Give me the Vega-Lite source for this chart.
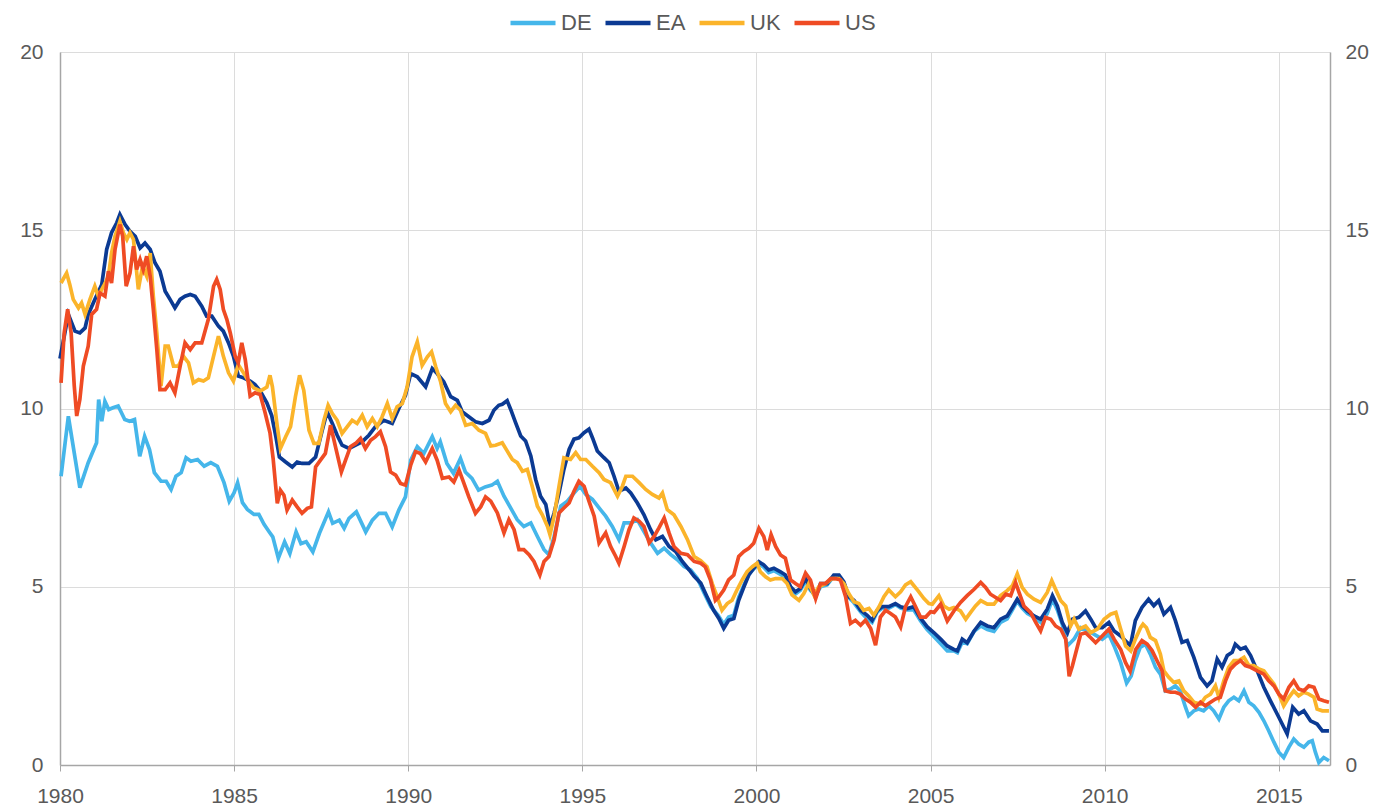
{
"$schema": "https://vega.github.io/schema/vega-lite/v6.json",
"width": 1270, "height": 713,
"autosize": {"type": "none"},
"padding": {"left": 60, "top": 52, "right": 46, "bottom": 43},
"background": "white",
"config": {"view": {"stroke": null}, "font": "Liberation Sans"},
"data": {"values": [
{"s":"DE","t":1980.03,"v":8.1},{"s":"DE","t":1980.24,"v":9.78},{"s":"DE","t":1980.57,"v":7.78},{"s":"DE","t":1980.81,"v":8.48},{"s":"DE","t":1981.05,"v":9.04},{"s":"DE","t":1981.11,"v":10.25},{"s":"DE","t":1981.2,"v":9.64},{"s":"DE","t":1981.29,"v":10.2},{"s":"DE","t":1981.4,"v":9.97},{"s":"DE","t":1981.52,"v":10.02},{"s":"DE","t":1981.67,"v":10.07},{"s":"DE","t":1981.86,"v":9.69},{"s":"DE","t":1982.0,"v":9.64},{"s":"DE","t":1982.14,"v":9.69},{"s":"DE","t":1982.29,"v":8.66},{"s":"DE","t":1982.43,"v":9.22},{"s":"DE","t":1982.57,"v":8.85},{"s":"DE","t":1982.71,"v":8.2},{"s":"DE","t":1982.9,"v":7.96},{"s":"DE","t":1983.05,"v":7.96},{"s":"DE","t":1983.19,"v":7.73},{"s":"DE","t":1983.33,"v":8.1},{"s":"DE","t":1983.48,"v":8.2},{"s":"DE","t":1983.62,"v":8.62},{"s":"DE","t":1983.76,"v":8.52},{"s":"DE","t":1983.95,"v":8.57},{"s":"DE","t":1984.14,"v":8.38},{"s":"DE","t":1984.33,"v":8.48},{"s":"DE","t":1984.52,"v":8.38},{"s":"DE","t":1984.71,"v":7.92},{"s":"DE","t":1984.86,"v":7.4},{"s":"DE","t":1985.0,"v":7.64},{"s":"DE","t":1985.1,"v":7.92},{"s":"DE","t":1985.24,"v":7.36},{"s":"DE","t":1985.38,"v":7.17},{"s":"DE","t":1985.57,"v":7.03},{"s":"DE","t":1985.71,"v":7.03},{"s":"DE","t":1985.86,"v":6.75},{"s":"DE","t":1986.0,"v":6.55},{"s":"DE","t":1986.11,"v":6.4},{"s":"DE","t":1986.27,"v":5.8},{"s":"DE","t":1986.45,"v":6.26},{"s":"DE","t":1986.6,"v":5.93},{"s":"DE","t":1986.78,"v":6.54},{"s":"DE","t":1986.92,"v":6.21},{"s":"DE","t":1987.07,"v":6.26},{"s":"DE","t":1987.26,"v":5.98},{"s":"DE","t":1987.45,"v":6.5},{"s":"DE","t":1987.71,"v":7.1},{"s":"DE","t":1987.83,"v":6.78},{"s":"DE","t":1988.02,"v":6.87},{"s":"DE","t":1988.16,"v":6.64},{"s":"DE","t":1988.3,"v":6.92},{"s":"DE","t":1988.51,"v":7.1},{"s":"DE","t":1988.78,"v":6.54},{"s":"DE","t":1988.97,"v":6.87},{"s":"DE","t":1989.16,"v":7.06},{"s":"DE","t":1989.35,"v":7.06},{"s":"DE","t":1989.54,"v":6.68},{"s":"DE","t":1989.73,"v":7.15},{"s":"DE","t":1989.92,"v":7.52},{"s":"DE","t":1990.07,"v":8.55},{"s":"DE","t":1990.26,"v":8.93},{"s":"DE","t":1990.45,"v":8.74},{"s":"DE","t":1990.69,"v":9.21},{"s":"DE","t":1990.83,"v":8.88},{"s":"DE","t":1990.92,"v":9.07},{"s":"DE","t":1991.11,"v":8.46},{"s":"DE","t":1991.3,"v":8.18},{"s":"DE","t":1991.5,"v":8.6},{"s":"DE","t":1991.64,"v":8.22},{"s":"DE","t":1991.83,"v":8.04},{"s":"DE","t":1992.02,"v":7.71},{"s":"DE","t":1992.21,"v":7.8},{"s":"DE","t":1992.4,"v":7.85},{"s":"DE","t":1992.56,"v":7.96},{"s":"DE","t":1992.75,"v":7.54},{"s":"DE","t":1992.94,"v":7.21},{"s":"DE","t":1993.13,"v":6.88},{"s":"DE","t":1993.32,"v":6.69},{"s":"DE","t":1993.52,"v":6.79},{"s":"DE","t":1993.71,"v":6.41},{"s":"DE","t":1993.9,"v":6.04},{"s":"DE","t":1994.04,"v":5.9},{"s":"DE","t":1994.19,"v":6.41},{"s":"DE","t":1994.38,"v":7.26},{"s":"DE","t":1994.57,"v":7.4},{"s":"DE","t":1994.76,"v":7.63},{"s":"DE","t":1994.93,"v":7.82},{"s":"DE","t":1995.1,"v":7.59},{"s":"DE","t":1995.29,"v":7.45},{"s":"DE","t":1995.48,"v":7.21},{"s":"DE","t":1995.67,"v":6.98},{"s":"DE","t":1995.86,"v":6.69},{"s":"DE","t":1996.05,"v":6.32},{"s":"DE","t":1996.2,"v":6.79},{"s":"DE","t":1996.39,"v":6.79},{"s":"DE","t":1996.58,"v":6.88},{"s":"DE","t":1996.77,"v":6.55},{"s":"DE","t":1996.96,"v":6.23},{"s":"DE","t":1997.16,"v":5.94},{"s":"DE","t":1997.35,"v":6.08},{"s":"DE","t":1997.54,"v":5.9},{"s":"DE","t":1997.73,"v":5.76},{"s":"DE","t":1997.92,"v":5.57},{"s":"DE","t":1998.11,"v":5.47},{"s":"DE","t":1998.3,"v":5.24},{"s":"DE","t":1998.5,"v":4.82},{"s":"DE","t":1998.69,"v":4.44},{"s":"DE","t":1998.9,"v":4.2},{"s":"DE","t":1999.06,"v":3.95},{"s":"DE","t":1999.2,"v":4.15},{"s":"DE","t":1999.35,"v":4.2},{"s":"DE","t":1999.49,"v":4.7},{"s":"DE","t":1999.64,"v":5.05},{"s":"DE","t":1999.78,"v":5.35},{"s":"DE","t":1999.92,"v":5.5},{"s":"DE","t":2000.07,"v":5.65},{"s":"DE","t":2000.21,"v":5.55},{"s":"DE","t":2000.35,"v":5.4},{"s":"DE","t":2000.5,"v":5.45},{"s":"DE","t":2000.69,"v":5.35},{"s":"DE","t":2000.83,"v":5.25},{"s":"DE","t":2000.98,"v":4.9},{"s":"DE","t":2001.12,"v":4.8},{"s":"DE","t":2001.26,"v":4.9},{"s":"DE","t":2001.41,"v":5.15},{"s":"DE","t":2001.55,"v":4.9},{"s":"DE","t":2001.7,"v":4.75},{"s":"DE","t":2001.84,"v":5.0},{"s":"DE","t":2002.03,"v":5.05},{"s":"DE","t":2002.22,"v":5.3},{"s":"DE","t":2002.37,"v":5.3},{"s":"DE","t":2002.51,"v":5.1},{"s":"DE","t":2002.65,"v":4.7},{"s":"DE","t":2002.8,"v":4.55},{"s":"DE","t":2002.99,"v":4.3},{"s":"DE","t":2003.18,"v":4.1},{"s":"DE","t":2003.32,"v":4.0},{"s":"DE","t":2003.47,"v":4.3},{"s":"DE","t":2003.61,"v":4.4},{"s":"DE","t":2003.8,"v":4.4},{"s":"DE","t":2003.99,"v":4.5},{"s":"DE","t":2004.14,"v":4.4},{"s":"DE","t":2004.33,"v":4.35},{"s":"DE","t":2004.52,"v":4.35},{"s":"DE","t":2004.71,"v":4.05},{"s":"DE","t":2004.9,"v":3.8},{"s":"DE","t":2005.1,"v":3.6},{"s":"DE","t":2005.29,"v":3.4},{"s":"DE","t":2005.48,"v":3.2},{"s":"DE","t":2005.67,"v":3.2},{"s":"DE","t":2005.77,"v":3.15},{"s":"DE","t":2005.91,"v":3.45},{"s":"DE","t":2006.05,"v":3.4},{"s":"DE","t":2006.25,"v":3.75},{"s":"DE","t":2006.44,"v":3.9},{"s":"DE","t":2006.63,"v":3.8},{"s":"DE","t":2006.82,"v":3.75},{"s":"DE","t":2007.01,"v":4.0},{"s":"DE","t":2007.2,"v":4.1},{"s":"DE","t":2007.35,"v":4.35},{"s":"DE","t":2007.49,"v":4.6},{"s":"DE","t":2007.63,"v":4.4},{"s":"DE","t":2007.78,"v":4.25},{"s":"DE","t":2007.97,"v":4.15},{"s":"DE","t":2008.16,"v":4.0},{"s":"DE","t":2008.35,"v":4.25},{"s":"DE","t":2008.5,"v":4.65},{"s":"DE","t":2008.64,"v":4.35},{"s":"DE","t":2008.78,"v":3.95},{"s":"DE","t":2008.93,"v":3.34},{"s":"DE","t":2009.12,"v":3.53},{"s":"DE","t":2009.31,"v":3.85},{"s":"DE","t":2009.5,"v":3.76},{"s":"DE","t":2009.69,"v":3.67},{"s":"DE","t":2009.93,"v":3.53},{"s":"DE","t":2010.12,"v":3.67},{"s":"DE","t":2010.27,"v":3.34},{"s":"DE","t":2010.46,"v":2.87},{"s":"DE","t":2010.63,"v":2.3},{"s":"DE","t":2010.76,"v":2.5},{"s":"DE","t":2010.88,"v":2.93},{"s":"DE","t":2011.02,"v":3.3},{"s":"DE","t":2011.17,"v":3.39},{"s":"DE","t":2011.31,"v":3.11},{"s":"DE","t":2011.46,"v":2.74},{"s":"DE","t":2011.6,"v":2.55},{"s":"DE","t":2011.74,"v":2.08},{"s":"DE","t":2011.89,"v":2.13},{"s":"DE","t":2012.03,"v":2.22},{"s":"DE","t":2012.17,"v":2.08},{"s":"DE","t":2012.32,"v":1.62},{"s":"DE","t":2012.41,"v":1.38},{"s":"DE","t":2012.56,"v":1.52},{"s":"DE","t":2012.7,"v":1.57},{"s":"DE","t":2012.84,"v":1.52},{"s":"DE","t":2012.99,"v":1.66},{"s":"DE","t":2013.13,"v":1.52},{"s":"DE","t":2013.28,"v":1.29},{"s":"DE","t":2013.42,"v":1.62},{"s":"DE","t":2013.56,"v":1.8},{"s":"DE","t":2013.71,"v":1.9},{"s":"DE","t":2013.85,"v":1.8},{"s":"DE","t":2014.0,"v":2.08},{"s":"DE","t":2014.14,"v":1.76},{"s":"DE","t":2014.28,"v":1.66},{"s":"DE","t":2014.43,"v":1.48},{"s":"DE","t":2014.57,"v":1.24},{"s":"DE","t":2014.71,"v":0.96},{"s":"DE","t":2014.86,"v":0.64},{"s":"DE","t":2015.0,"v":0.36},{"s":"DE","t":2015.14,"v":0.21},{"s":"DE","t":2015.29,"v":0.5},{"s":"DE","t":2015.43,"v":0.73},{"s":"DE","t":2015.57,"v":0.59},{"s":"DE","t":2015.72,"v":0.5},{"s":"DE","t":2015.86,"v":0.64},{"s":"DE","t":2015.96,"v":0.68},{"s":"DE","t":2016.05,"v":0.36},{"s":"DE","t":2016.15,"v":0.07},{"s":"DE","t":2016.29,"v":0.21},{"s":"DE","t":2016.44,"v":0.12},
{"s":"EA","t":1980.0,"v":11.4},{"s":"EA","t":1980.24,"v":12.64},{"s":"EA","t":1980.43,"v":12.17},{"s":"EA","t":1980.57,"v":12.12},{"s":"EA","t":1980.72,"v":12.26},{"s":"EA","t":1980.81,"v":12.64},{"s":"EA","t":1981.0,"v":13.06},{"s":"EA","t":1981.2,"v":13.48},{"s":"EA","t":1981.34,"v":14.46},{"s":"EA","t":1981.48,"v":14.93},{"s":"EA","t":1981.63,"v":15.21},{"s":"EA","t":1981.72,"v":15.44},{"s":"EA","t":1981.87,"v":15.16},{"s":"EA","t":1982.01,"v":14.97},{"s":"EA","t":1982.16,"v":14.83},{"s":"EA","t":1982.3,"v":14.5},{"s":"EA","t":1982.44,"v":14.64},{"s":"EA","t":1982.59,"v":14.46},{"s":"EA","t":1982.73,"v":14.08},{"s":"EA","t":1982.87,"v":13.85},{"s":"EA","t":1983.02,"v":13.29},{"s":"EA","t":1983.16,"v":13.06},{"s":"EA","t":1983.3,"v":12.82},{"s":"EA","t":1983.45,"v":13.06},{"s":"EA","t":1983.59,"v":13.15},{"s":"EA","t":1983.74,"v":13.2},{"s":"EA","t":1983.88,"v":13.15},{"s":"EA","t":1984.07,"v":12.87},{"s":"EA","t":1984.21,"v":12.59},{"s":"EA","t":1984.36,"v":12.59},{"s":"EA","t":1984.55,"v":12.31},{"s":"EA","t":1984.69,"v":12.17},{"s":"EA","t":1984.84,"v":11.84},{"s":"EA","t":1984.98,"v":11.47},{"s":"EA","t":1985.12,"v":10.91},{"s":"EA","t":1985.27,"v":10.86},{"s":"EA","t":1985.46,"v":10.77},{"s":"EA","t":1985.6,"v":10.67},{"s":"EA","t":1985.75,"v":10.49},{"s":"EA","t":1985.94,"v":10.16},{"s":"EA","t":1986.08,"v":9.8},{"s":"EA","t":1986.2,"v":9.2},{"s":"EA","t":1986.3,"v":8.64},{"s":"EA","t":1986.48,"v":8.5},{"s":"EA","t":1986.67,"v":8.36},{"s":"EA","t":1986.81,"v":8.5},{"s":"EA","t":1986.95,"v":8.46},{"s":"EA","t":1987.15,"v":8.46},{"s":"EA","t":1987.34,"v":8.64},{"s":"EA","t":1987.53,"v":9.39},{"s":"EA","t":1987.67,"v":9.91},{"s":"EA","t":1987.82,"v":9.58},{"s":"EA","t":1987.96,"v":9.25},{"s":"EA","t":1988.1,"v":8.97},{"s":"EA","t":1988.3,"v":8.88},{"s":"EA","t":1988.49,"v":8.97},{"s":"EA","t":1988.68,"v":9.07},{"s":"EA","t":1988.87,"v":9.25},{"s":"EA","t":1989.06,"v":9.49},{"s":"EA","t":1989.3,"v":9.67},{"s":"EA","t":1989.54,"v":9.58},{"s":"EA","t":1989.73,"v":10.0},{"s":"EA","t":1989.92,"v":10.37},{"s":"EA","t":1990.07,"v":10.98},{"s":"EA","t":1990.26,"v":10.89},{"s":"EA","t":1990.5,"v":10.61},{"s":"EA","t":1990.69,"v":11.12},{"s":"EA","t":1990.83,"v":10.98},{"s":"EA","t":1991.02,"v":10.75},{"s":"EA","t":1991.22,"v":10.33},{"s":"EA","t":1991.41,"v":10.23},{"s":"EA","t":1991.55,"v":9.91},{"s":"EA","t":1991.74,"v":9.77},{"s":"EA","t":1991.93,"v":9.63},{"s":"EA","t":1992.13,"v":9.58},{"s":"EA","t":1992.32,"v":9.67},{"s":"EA","t":1992.46,"v":9.95},{"s":"EA","t":1992.6,"v":10.09},{"s":"EA","t":1992.7,"v":10.12},{"s":"EA","t":1992.84,"v":10.22},{"s":"EA","t":1992.94,"v":9.98},{"s":"EA","t":1993.08,"v":9.61},{"s":"EA","t":1993.23,"v":9.23},{"s":"EA","t":1993.37,"v":9.09},{"s":"EA","t":1993.52,"v":8.67},{"s":"EA","t":1993.66,"v":8.01},{"s":"EA","t":1993.8,"v":7.54},{"s":"EA","t":1993.95,"v":7.31},{"s":"EA","t":1994.07,"v":6.69},{"s":"EA","t":1994.19,"v":7.07},{"s":"EA","t":1994.33,"v":7.63},{"s":"EA","t":1994.47,"v":8.29},{"s":"EA","t":1994.62,"v":8.85},{"s":"EA","t":1994.76,"v":9.14},{"s":"EA","t":1994.9,"v":9.18},{"s":"EA","t":1995.05,"v":9.32},{"s":"EA","t":1995.19,"v":9.42},{"s":"EA","t":1995.29,"v":9.18},{"s":"EA","t":1995.43,"v":8.81},{"s":"EA","t":1995.62,"v":8.62},{"s":"EA","t":1995.77,"v":8.48},{"s":"EA","t":1995.91,"v":8.1},{"s":"EA","t":1996.05,"v":7.68},{"s":"EA","t":1996.25,"v":7.77},{"s":"EA","t":1996.39,"v":7.63},{"s":"EA","t":1996.58,"v":7.35},{"s":"EA","t":1996.77,"v":7.02},{"s":"EA","t":1996.96,"v":6.6},{"s":"EA","t":1997.11,"v":6.32},{"s":"EA","t":1997.3,"v":6.41},{"s":"EA","t":1997.49,"v":6.13},{"s":"EA","t":1997.68,"v":5.99},{"s":"EA","t":1997.87,"v":5.71},{"s":"EA","t":1998.07,"v":5.47},{"s":"EA","t":1998.21,"v":5.29},{"s":"EA","t":1998.4,"v":5.1},{"s":"EA","t":1998.58,"v":4.72},{"s":"EA","t":1998.77,"v":4.34},{"s":"EA","t":1998.92,"v":4.11},{"s":"EA","t":1999.06,"v":3.83},{"s":"EA","t":1999.2,"v":4.06},{"s":"EA","t":1999.35,"v":4.11},{"s":"EA","t":1999.49,"v":4.62},{"s":"EA","t":1999.64,"v":5.0},{"s":"EA","t":1999.78,"v":5.33},{"s":"EA","t":1999.92,"v":5.52},{"s":"EA","t":2000.07,"v":5.7},{"s":"EA","t":2000.21,"v":5.61},{"s":"EA","t":2000.35,"v":5.47},{"s":"EA","t":2000.5,"v":5.52},{"s":"EA","t":2000.69,"v":5.42},{"s":"EA","t":2000.83,"v":5.33},{"s":"EA","t":2000.98,"v":5.0},{"s":"EA","t":2001.12,"v":4.86},{"s":"EA","t":2001.26,"v":4.95},{"s":"EA","t":2001.41,"v":5.23},{"s":"EA","t":2001.55,"v":4.95},{"s":"EA","t":2001.7,"v":4.72},{"s":"EA","t":2001.84,"v":5.09},{"s":"EA","t":2002.03,"v":5.09},{"s":"EA","t":2002.22,"v":5.33},{"s":"EA","t":2002.37,"v":5.33},{"s":"EA","t":2002.51,"v":5.14},{"s":"EA","t":2002.65,"v":4.72},{"s":"EA","t":2002.8,"v":4.62},{"s":"EA","t":2002.99,"v":4.34},{"s":"EA","t":2003.18,"v":4.2},{"s":"EA","t":2003.32,"v":4.06},{"s":"EA","t":2003.47,"v":4.34},{"s":"EA","t":2003.61,"v":4.44},{"s":"EA","t":2003.8,"v":4.44},{"s":"EA","t":2003.99,"v":4.53},{"s":"EA","t":2004.14,"v":4.44},{"s":"EA","t":2004.33,"v":4.39},{"s":"EA","t":2004.52,"v":4.44},{"s":"EA","t":2004.71,"v":4.12},{"s":"EA","t":2004.9,"v":3.88},{"s":"EA","t":2005.1,"v":3.71},{"s":"EA","t":2005.29,"v":3.53},{"s":"EA","t":2005.48,"v":3.34},{"s":"EA","t":2005.67,"v":3.24},{"s":"EA","t":2005.77,"v":3.2},{"s":"EA","t":2005.91,"v":3.53},{"s":"EA","t":2006.05,"v":3.43},{"s":"EA","t":2006.25,"v":3.76},{"s":"EA","t":2006.44,"v":4.0},{"s":"EA","t":2006.63,"v":3.9},{"s":"EA","t":2006.82,"v":3.85},{"s":"EA","t":2007.01,"v":4.09},{"s":"EA","t":2007.2,"v":4.18},{"s":"EA","t":2007.35,"v":4.42},{"s":"EA","t":2007.49,"v":4.65},{"s":"EA","t":2007.63,"v":4.46},{"s":"EA","t":2007.78,"v":4.32},{"s":"EA","t":2007.97,"v":4.18},{"s":"EA","t":2008.16,"v":4.09},{"s":"EA","t":2008.35,"v":4.37},{"s":"EA","t":2008.5,"v":4.75},{"s":"EA","t":2008.64,"v":4.46},{"s":"EA","t":2008.78,"v":4.0},{"s":"EA","t":2008.93,"v":3.71},{"s":"EA","t":2009.07,"v":4.09},{"s":"EA","t":2009.26,"v":4.14},{"s":"EA","t":2009.45,"v":4.32},{"s":"EA","t":2009.6,"v":4.09},{"s":"EA","t":2009.74,"v":3.85},{"s":"EA","t":2009.93,"v":3.85},{"s":"EA","t":2010.12,"v":4.0},{"s":"EA","t":2010.27,"v":3.76},{"s":"EA","t":2010.46,"v":3.62},{"s":"EA","t":2010.65,"v":3.43},{"s":"EA","t":2010.74,"v":3.35},{"s":"EA","t":2010.88,"v":4.05},{"s":"EA","t":2011.07,"v":4.42},{"s":"EA","t":2011.26,"v":4.65},{"s":"EA","t":2011.41,"v":4.47},{"s":"EA","t":2011.55,"v":4.61},{"s":"EA","t":2011.7,"v":4.23},{"s":"EA","t":2011.89,"v":4.42},{"s":"EA","t":2012.03,"v":4.05},{"s":"EA","t":2012.22,"v":3.44},{"s":"EA","t":2012.37,"v":3.49},{"s":"EA","t":2012.56,"v":3.02},{"s":"EA","t":2012.75,"v":2.46},{"s":"EA","t":2012.94,"v":2.22},{"s":"EA","t":2013.08,"v":2.36},{"s":"EA","t":2013.23,"v":2.97},{"s":"EA","t":2013.37,"v":2.74},{"s":"EA","t":2013.52,"v":3.07},{"s":"EA","t":2013.66,"v":3.16},{"s":"EA","t":2013.75,"v":3.39},{"s":"EA","t":2013.9,"v":3.25},{"s":"EA","t":2014.04,"v":3.3},{"s":"EA","t":2014.19,"v":3.07},{"s":"EA","t":2014.38,"v":2.64},{"s":"EA","t":2014.57,"v":2.18},{"s":"EA","t":2014.76,"v":1.8},{"s":"EA","t":2015.0,"v":1.34},{"s":"EA","t":2015.24,"v":0.87},{"s":"EA","t":2015.4,"v":1.62},{"s":"EA","t":2015.57,"v":1.43},{"s":"EA","t":2015.72,"v":1.52},{"s":"EA","t":2015.91,"v":1.24},{"s":"EA","t":2016.1,"v":1.15},{"s":"EA","t":2016.25,"v":0.96},{"s":"EA","t":2016.44,"v":0.96},
{"s":"UK","t":1980.03,"v":13.52},{"s":"UK","t":1980.19,"v":13.8},{"s":"UK","t":1980.28,"v":13.48},{"s":"UK","t":1980.38,"v":13.06},{"s":"UK","t":1980.53,"v":12.82},{"s":"UK","t":1980.62,"v":12.96},{"s":"UK","t":1980.72,"v":12.64},{"s":"UK","t":1980.86,"v":13.06},{"s":"UK","t":1981.0,"v":13.43},{"s":"UK","t":1981.1,"v":13.15},{"s":"UK","t":1981.25,"v":13.43},{"s":"UK","t":1981.39,"v":13.71},{"s":"UK","t":1981.48,"v":14.36},{"s":"UK","t":1981.58,"v":14.83},{"s":"UK","t":1981.72,"v":15.25},{"s":"UK","t":1981.82,"v":14.93},{"s":"UK","t":1981.92,"v":14.74},{"s":"UK","t":1982.01,"v":14.93},{"s":"UK","t":1982.11,"v":14.74},{"s":"UK","t":1982.25,"v":13.34},{"s":"UK","t":1982.37,"v":13.99},{"s":"UK","t":1982.49,"v":13.71},{"s":"UK","t":1982.59,"v":14.36},{"s":"UK","t":1982.68,"v":13.15},{"s":"UK","t":1982.78,"v":12.12},{"s":"UK","t":1982.9,"v":10.63},{"s":"UK","t":1983.02,"v":11.75},{"s":"UK","t":1983.11,"v":11.75},{"s":"UK","t":1983.26,"v":11.19},{"s":"UK","t":1983.4,"v":11.19},{"s":"UK","t":1983.54,"v":11.47},{"s":"UK","t":1983.69,"v":11.28},{"s":"UK","t":1983.83,"v":10.72},{"s":"UK","t":1983.98,"v":10.81},{"s":"UK","t":1984.12,"v":10.77},{"s":"UK","t":1984.26,"v":10.86},{"s":"UK","t":1984.41,"v":11.47},{"s":"UK","t":1984.55,"v":12.03},{"s":"UK","t":1984.69,"v":11.47},{"s":"UK","t":1984.84,"v":11.0},{"s":"UK","t":1984.98,"v":10.77},{"s":"UK","t":1985.12,"v":11.23},{"s":"UK","t":1985.27,"v":11.0},{"s":"UK","t":1985.41,"v":10.77},{"s":"UK","t":1985.56,"v":10.58},{"s":"UK","t":1985.75,"v":10.49},{"s":"UK","t":1985.94,"v":10.6},{"s":"UK","t":1986.03,"v":10.93},{"s":"UK","t":1986.1,"v":10.61},{"s":"UK","t":1986.24,"v":9.49},{"s":"UK","t":1986.33,"v":8.88},{"s":"UK","t":1986.48,"v":9.21},{"s":"UK","t":1986.62,"v":9.49},{"s":"UK","t":1986.76,"v":10.33},{"s":"UK","t":1986.88,"v":10.93},{"s":"UK","t":1987.0,"v":10.51},{"s":"UK","t":1987.15,"v":9.39},{"s":"UK","t":1987.29,"v":9.02},{"s":"UK","t":1987.43,"v":9.02},{"s":"UK","t":1987.58,"v":9.67},{"s":"UK","t":1987.7,"v":10.09},{"s":"UK","t":1987.82,"v":9.86},{"s":"UK","t":1987.96,"v":9.67},{"s":"UK","t":1988.1,"v":9.3},{"s":"UK","t":1988.25,"v":9.49},{"s":"UK","t":1988.39,"v":9.67},{"s":"UK","t":1988.53,"v":9.58},{"s":"UK","t":1988.68,"v":9.81},{"s":"UK","t":1988.82,"v":9.49},{"s":"UK","t":1988.97,"v":9.72},{"s":"UK","t":1989.11,"v":9.49},{"s":"UK","t":1989.25,"v":9.77},{"s":"UK","t":1989.4,"v":10.14},{"s":"UK","t":1989.54,"v":9.72},{"s":"UK","t":1989.68,"v":10.05},{"s":"UK","t":1989.83,"v":10.14},{"s":"UK","t":1989.97,"v":10.61},{"s":"UK","t":1990.11,"v":11.45},{"s":"UK","t":1990.26,"v":11.87},{"s":"UK","t":1990.4,"v":11.21},{"s":"UK","t":1990.55,"v":11.45},{"s":"UK","t":1990.67,"v":11.59},{"s":"UK","t":1990.79,"v":11.17},{"s":"UK","t":1990.93,"v":10.75},{"s":"UK","t":1991.07,"v":10.14},{"s":"UK","t":1991.22,"v":9.91},{"s":"UK","t":1991.36,"v":10.09},{"s":"UK","t":1991.5,"v":9.95},{"s":"UK","t":1991.65,"v":9.53},{"s":"UK","t":1991.84,"v":9.58},{"s":"UK","t":1992.03,"v":9.39},{"s":"UK","t":1992.22,"v":9.3},{"s":"UK","t":1992.37,"v":8.95},{"s":"UK","t":1992.51,"v":8.97},{"s":"UK","t":1992.7,"v":9.04},{"s":"UK","t":1992.84,"v":8.81},{"s":"UK","t":1992.99,"v":8.57},{"s":"UK","t":1993.13,"v":8.48},{"s":"UK","t":1993.28,"v":8.24},{"s":"UK","t":1993.42,"v":8.29},{"s":"UK","t":1993.56,"v":7.82},{"s":"UK","t":1993.71,"v":7.26},{"s":"UK","t":1993.85,"v":7.02},{"s":"UK","t":1994.0,"v":6.69},{"s":"UK","t":1994.07,"v":6.46},{"s":"UK","t":1994.19,"v":6.98},{"s":"UK","t":1994.33,"v":7.82},{"s":"UK","t":1994.47,"v":8.62},{"s":"UK","t":1994.66,"v":8.57},{"s":"UK","t":1994.81,"v":8.76},{"s":"UK","t":1994.95,"v":8.57},{"s":"UK","t":1995.1,"v":8.57},{"s":"UK","t":1995.29,"v":8.38},{"s":"UK","t":1995.48,"v":8.2},{"s":"UK","t":1995.62,"v":8.01},{"s":"UK","t":1995.81,"v":7.92},{"s":"UK","t":1996.01,"v":7.54},{"s":"UK","t":1996.15,"v":7.82},{"s":"UK","t":1996.25,"v":8.1},{"s":"UK","t":1996.44,"v":8.1},{"s":"UK","t":1996.63,"v":7.92},{"s":"UK","t":1996.82,"v":7.73},{"s":"UK","t":1997.01,"v":7.59},{"s":"UK","t":1997.2,"v":7.49},{"s":"UK","t":1997.3,"v":7.63},{"s":"UK","t":1997.44,"v":7.16},{"s":"UK","t":1997.63,"v":7.02},{"s":"UK","t":1997.83,"v":6.69},{"s":"UK","t":1998.02,"v":6.32},{"s":"UK","t":1998.21,"v":5.85},{"s":"UK","t":1998.4,"v":5.73},{"s":"UK","t":1998.58,"v":5.56},{"s":"UK","t":1998.73,"v":5.09},{"s":"UK","t":1998.87,"v":4.72},{"s":"UK","t":1999.01,"v":4.34},{"s":"UK","t":1999.16,"v":4.53},{"s":"UK","t":1999.3,"v":4.62},{"s":"UK","t":1999.44,"v":4.91},{"s":"UK","t":1999.59,"v":5.19},{"s":"UK","t":1999.73,"v":5.42},{"s":"UK","t":1999.88,"v":5.56},{"s":"UK","t":2000.02,"v":5.66},{"s":"UK","t":2000.11,"v":5.42},{"s":"UK","t":2000.26,"v":5.28},{"s":"UK","t":2000.4,"v":5.19},{"s":"UK","t":2000.55,"v":5.23},{"s":"UK","t":2000.74,"v":5.23},{"s":"UK","t":2000.88,"v":5.09},{"s":"UK","t":2001.02,"v":4.77},{"s":"UK","t":2001.22,"v":4.62},{"s":"UK","t":2001.36,"v":4.81},{"s":"UK","t":2001.5,"v":5.09},{"s":"UK","t":2001.65,"v":4.77},{"s":"UK","t":2001.79,"v":5.0},{"s":"UK","t":2001.98,"v":5.09},{"s":"UK","t":2002.17,"v":5.23},{"s":"UK","t":2002.37,"v":5.23},{"s":"UK","t":2002.51,"v":5.09},{"s":"UK","t":2002.65,"v":4.81},{"s":"UK","t":2002.8,"v":4.58},{"s":"UK","t":2002.94,"v":4.53},{"s":"UK","t":2003.08,"v":4.34},{"s":"UK","t":2003.23,"v":4.39},{"s":"UK","t":2003.37,"v":4.2},{"s":"UK","t":2003.52,"v":4.44},{"s":"UK","t":2003.66,"v":4.72},{"s":"UK","t":2003.8,"v":4.91},{"s":"UK","t":2003.99,"v":4.72},{"s":"UK","t":2004.14,"v":4.86},{"s":"UK","t":2004.28,"v":5.05},{"s":"UK","t":2004.43,"v":5.14},{"s":"UK","t":2004.62,"v":4.91},{"s":"UK","t":2004.81,"v":4.67},{"s":"UK","t":2004.95,"v":4.53},{"s":"UK","t":2005.05,"v":4.51},{"s":"UK","t":2005.24,"v":4.75},{"s":"UK","t":2005.38,"v":4.46},{"s":"UK","t":2005.53,"v":4.37},{"s":"UK","t":2005.67,"v":4.42},{"s":"UK","t":2005.86,"v":4.32},{"s":"UK","t":2006.01,"v":4.09},{"s":"UK","t":2006.15,"v":4.28},{"s":"UK","t":2006.29,"v":4.46},{"s":"UK","t":2006.44,"v":4.61},{"s":"UK","t":2006.63,"v":4.51},{"s":"UK","t":2006.82,"v":4.51},{"s":"UK","t":2007.01,"v":4.75},{"s":"UK","t":2007.2,"v":4.89},{"s":"UK","t":2007.35,"v":5.03},{"s":"UK","t":2007.49,"v":5.36},{"s":"UK","t":2007.63,"v":4.98},{"s":"UK","t":2007.78,"v":4.79},{"s":"UK","t":2007.97,"v":4.65},{"s":"UK","t":2008.16,"v":4.56},{"s":"UK","t":2008.35,"v":4.84},{"s":"UK","t":2008.48,"v":5.17},{"s":"UK","t":2008.59,"v":4.93},{"s":"UK","t":2008.74,"v":4.61},{"s":"UK","t":2008.88,"v":4.46},{"s":"UK","t":2009.02,"v":3.9},{"s":"UK","t":2009.12,"v":4.09},{"s":"UK","t":2009.26,"v":3.81},{"s":"UK","t":2009.45,"v":3.9},{"s":"UK","t":2009.6,"v":3.71},{"s":"UK","t":2009.79,"v":3.81},{"s":"UK","t":2009.98,"v":4.09},{"s":"UK","t":2010.17,"v":4.23},{"s":"UK","t":2010.32,"v":4.28},{"s":"UK","t":2010.46,"v":3.81},{"s":"UK","t":2010.6,"v":3.34},{"s":"UK","t":2010.75,"v":3.2},{"s":"UK","t":2010.89,"v":3.55},{"s":"UK","t":2011.03,"v":3.85},{"s":"UK","t":2011.1,"v":3.95},{"s":"UK","t":2011.2,"v":3.85},{"s":"UK","t":2011.31,"v":3.58},{"s":"UK","t":2011.46,"v":3.49},{"s":"UK","t":2011.6,"v":3.11},{"s":"UK","t":2011.7,"v":2.64},{"s":"UK","t":2011.84,"v":2.46},{"s":"UK","t":2011.98,"v":2.32},{"s":"UK","t":2012.13,"v":2.36},{"s":"UK","t":2012.27,"v":2.08},{"s":"UK","t":2012.41,"v":1.94},{"s":"UK","t":2012.56,"v":1.76},{"s":"UK","t":2012.75,"v":1.71},{"s":"UK","t":2012.89,"v":1.9},{"s":"UK","t":2013.04,"v":1.99},{"s":"UK","t":2013.18,"v":2.22},{"s":"UK","t":2013.28,"v":1.9},{"s":"UK","t":2013.42,"v":2.36},{"s":"UK","t":2013.56,"v":2.74},{"s":"UK","t":2013.71,"v":2.93},{"s":"UK","t":2013.85,"v":2.93},{"s":"UK","t":2014.0,"v":3.02},{"s":"UK","t":2014.14,"v":2.79},{"s":"UK","t":2014.28,"v":2.79},{"s":"UK","t":2014.43,"v":2.69},{"s":"UK","t":2014.57,"v":2.64},{"s":"UK","t":2014.71,"v":2.46},{"s":"UK","t":2014.86,"v":2.27},{"s":"UK","t":2015.0,"v":1.99},{"s":"UK","t":2015.14,"v":1.66},{"s":"UK","t":2015.29,"v":1.9},{"s":"UK","t":2015.43,"v":2.08},{"s":"UK","t":2015.57,"v":1.94},{"s":"UK","t":2015.72,"v":2.04},{"s":"UK","t":2015.86,"v":1.99},{"s":"UK","t":2016.01,"v":1.9},{"s":"UK","t":2016.1,"v":1.57},{"s":"UK","t":2016.25,"v":1.52},{"s":"UK","t":2016.44,"v":1.52},
{"s":"US","t":1980.03,"v":10.72},{"s":"US","t":1980.12,"v":12.12},{"s":"US","t":1980.22,"v":12.78},{"s":"US","t":1980.32,"v":12.12},{"s":"US","t":1980.41,"v":10.63},{"s":"US","t":1980.48,"v":9.79},{"s":"US","t":1980.57,"v":10.25},{"s":"US","t":1980.67,"v":11.19},{"s":"US","t":1980.81,"v":11.75},{"s":"US","t":1980.91,"v":12.64},{"s":"US","t":1981.05,"v":12.78},{"s":"US","t":1981.15,"v":13.24},{"s":"US","t":1981.29,"v":13.15},{"s":"US","t":1981.39,"v":13.85},{"s":"US","t":1981.48,"v":13.52},{"s":"US","t":1981.58,"v":14.46},{"s":"US","t":1981.72,"v":15.16},{"s":"US","t":1981.8,"v":14.83},{"s":"US","t":1981.9,"v":13.43},{"s":"US","t":1982.01,"v":13.8},{"s":"US","t":1982.11,"v":14.55},{"s":"US","t":1982.2,"v":13.9},{"s":"US","t":1982.3,"v":14.18},{"s":"US","t":1982.39,"v":13.9},{"s":"US","t":1982.49,"v":14.27},{"s":"US","t":1982.59,"v":13.71},{"s":"US","t":1982.68,"v":12.78},{"s":"US","t":1982.78,"v":11.65},{"s":"US","t":1982.87,"v":10.53},{"s":"US","t":1983.02,"v":10.53},{"s":"US","t":1983.16,"v":10.72},{"s":"US","t":1983.3,"v":10.44},{"s":"US","t":1983.45,"v":11.19},{"s":"US","t":1983.59,"v":11.84},{"s":"US","t":1983.74,"v":11.65},{"s":"US","t":1983.88,"v":11.84},{"s":"US","t":1984.07,"v":11.84},{"s":"US","t":1984.26,"v":12.5},{"s":"US","t":1984.41,"v":13.43},{"s":"US","t":1984.5,"v":13.62},{"s":"US","t":1984.6,"v":13.34},{"s":"US","t":1984.69,"v":12.78},{"s":"US","t":1984.79,"v":12.5},{"s":"US","t":1984.89,"v":12.12},{"s":"US","t":1985.03,"v":11.47},{"s":"US","t":1985.12,"v":11.28},{"s":"US","t":1985.22,"v":11.84},{"s":"US","t":1985.32,"v":11.37},{"s":"US","t":1985.46,"v":10.35},{"s":"US","t":1985.6,"v":10.44},{"s":"US","t":1985.75,"v":10.39},{"s":"US","t":1985.89,"v":9.88},{"s":"US","t":1986.03,"v":9.32},{"s":"US","t":1986.12,"v":8.6},{"s":"US","t":1986.24,"v":7.34},{"s":"US","t":1986.33,"v":7.71},{"s":"US","t":1986.43,"v":7.57},{"s":"US","t":1986.52,"v":7.15},{"s":"US","t":1986.67,"v":7.43},{"s":"US","t":1986.81,"v":7.24},{"s":"US","t":1986.95,"v":7.06},{"s":"US","t":1987.1,"v":7.2},{"s":"US","t":1987.22,"v":7.24},{"s":"US","t":1987.34,"v":8.36},{"s":"US","t":1987.48,"v":8.55},{"s":"US","t":1987.62,"v":8.74},{"s":"US","t":1987.77,"v":9.53},{"s":"US","t":1987.91,"v":8.93},{"s":"US","t":1988.08,"v":8.22},{"s":"US","t":1988.2,"v":8.55},{"s":"US","t":1988.34,"v":8.93},{"s":"US","t":1988.49,"v":9.02},{"s":"US","t":1988.63,"v":9.16},{"s":"US","t":1988.77,"v":8.88},{"s":"US","t":1988.92,"v":9.11},{"s":"US","t":1989.06,"v":9.21},{"s":"US","t":1989.2,"v":9.35},{"s":"US","t":1989.35,"v":8.93},{"s":"US","t":1989.49,"v":8.22},{"s":"US","t":1989.64,"v":8.13},{"s":"US","t":1989.78,"v":7.9},{"s":"US","t":1989.92,"v":7.85},{"s":"US","t":1990.07,"v":8.41},{"s":"US","t":1990.21,"v":8.79},{"s":"US","t":1990.35,"v":8.74},{"s":"US","t":1990.5,"v":8.5},{"s":"US","t":1990.69,"v":8.88},{"s":"US","t":1990.83,"v":8.55},{"s":"US","t":1990.98,"v":8.04},{"s":"US","t":1991.17,"v":8.08},{"s":"US","t":1991.31,"v":7.94},{"s":"US","t":1991.46,"v":8.27},{"s":"US","t":1991.6,"v":7.9},{"s":"US","t":1991.74,"v":7.52},{"s":"US","t":1991.93,"v":7.06},{"s":"US","t":1992.08,"v":7.24},{"s":"US","t":1992.22,"v":7.52},{"s":"US","t":1992.37,"v":7.4},{"s":"US","t":1992.56,"v":7.07},{"s":"US","t":1992.75,"v":6.51},{"s":"US","t":1992.89,"v":6.88},{"s":"US","t":1993.04,"v":6.6},{"s":"US","t":1993.18,"v":6.04},{"s":"US","t":1993.32,"v":6.04},{"s":"US","t":1993.47,"v":5.9},{"s":"US","t":1993.61,"v":5.71},{"s":"US","t":1993.78,"v":5.33},{"s":"US","t":1993.9,"v":5.71},{"s":"US","t":1994.04,"v":5.85},{"s":"US","t":1994.19,"v":6.32},{"s":"US","t":1994.33,"v":7.07},{"s":"US","t":1994.47,"v":7.21},{"s":"US","t":1994.62,"v":7.35},{"s":"US","t":1994.76,"v":7.68},{"s":"US","t":1994.9,"v":7.96},{"s":"US","t":1995.05,"v":7.82},{"s":"US","t":1995.19,"v":7.4},{"s":"US","t":1995.34,"v":6.98},{"s":"US","t":1995.48,"v":6.23},{"s":"US","t":1995.67,"v":6.51},{"s":"US","t":1995.81,"v":6.13},{"s":"US","t":1995.96,"v":5.85},{"s":"US","t":1996.05,"v":5.66},{"s":"US","t":1996.2,"v":6.13},{"s":"US","t":1996.34,"v":6.6},{"s":"US","t":1996.48,"v":6.93},{"s":"US","t":1996.63,"v":6.84},{"s":"US","t":1996.77,"v":6.69},{"s":"US","t":1996.92,"v":6.23},{"s":"US","t":1997.06,"v":6.41},{"s":"US","t":1997.2,"v":6.65},{"s":"US","t":1997.35,"v":6.93},{"s":"US","t":1997.49,"v":6.51},{"s":"US","t":1997.63,"v":6.13},{"s":"US","t":1997.83,"v":5.94},{"s":"US","t":1998.02,"v":5.9},{"s":"US","t":1998.21,"v":5.71},{"s":"US","t":1998.4,"v":5.66},{"s":"US","t":1998.53,"v":5.56},{"s":"US","t":1998.68,"v":5.19},{"s":"US","t":1998.82,"v":4.62},{"s":"US","t":1998.92,"v":4.72},{"s":"US","t":1999.06,"v":4.91},{"s":"US","t":1999.2,"v":5.19},{"s":"US","t":1999.35,"v":5.33},{"s":"US","t":1999.49,"v":5.85},{"s":"US","t":1999.64,"v":5.99},{"s":"US","t":1999.78,"v":6.08},{"s":"US","t":1999.92,"v":6.22},{"s":"US","t":2000.07,"v":6.64},{"s":"US","t":2000.21,"v":6.41},{"s":"US","t":2000.31,"v":6.03},{"s":"US","t":2000.42,"v":6.46},{"s":"US","t":2000.55,"v":6.13},{"s":"US","t":2000.69,"v":5.89},{"s":"US","t":2000.83,"v":5.8},{"s":"US","t":2000.98,"v":5.19},{"s":"US","t":2001.12,"v":5.09},{"s":"US","t":2001.26,"v":5.0},{"s":"US","t":2001.41,"v":5.38},{"s":"US","t":2001.55,"v":5.19},{"s":"US","t":2001.7,"v":4.67},{"s":"US","t":2001.84,"v":5.09},{"s":"US","t":2001.98,"v":5.09},{"s":"US","t":2002.13,"v":5.23},{"s":"US","t":2002.27,"v":5.23},{"s":"US","t":2002.41,"v":5.19},{"s":"US","t":2002.56,"v":4.72},{"s":"US","t":2002.7,"v":3.97},{"s":"US","t":2002.84,"v":4.06},{"s":"US","t":2002.99,"v":3.92},{"s":"US","t":2003.13,"v":4.06},{"s":"US","t":2003.28,"v":3.83},{"s":"US","t":2003.42,"v":3.36},{"s":"US","t":2003.56,"v":4.15},{"s":"US","t":2003.71,"v":4.34},{"s":"US","t":2003.85,"v":4.25},{"s":"US","t":2003.99,"v":4.15},{"s":"US","t":2004.14,"v":3.87},{"s":"US","t":2004.28,"v":4.44},{"s":"US","t":2004.43,"v":4.72},{"s":"US","t":2004.57,"v":4.44},{"s":"US","t":2004.71,"v":4.15},{"s":"US","t":2004.86,"v":4.15},{"s":"US","t":2005.0,"v":4.3},{"s":"US","t":2005.1,"v":4.28},{"s":"US","t":2005.29,"v":4.51},{"s":"US","t":2005.48,"v":4.04},{"s":"US","t":2005.67,"v":4.32},{"s":"US","t":2005.86,"v":4.56},{"s":"US","t":2006.05,"v":4.75},{"s":"US","t":2006.25,"v":4.93},{"s":"US","t":2006.44,"v":5.12},{"s":"US","t":2006.58,"v":4.98},{"s":"US","t":2006.72,"v":4.79},{"s":"US","t":2006.87,"v":4.7},{"s":"US","t":2007.01,"v":4.61},{"s":"US","t":2007.16,"v":4.79},{"s":"US","t":2007.3,"v":4.75},{"s":"US","t":2007.44,"v":5.12},{"s":"US","t":2007.54,"v":4.84},{"s":"US","t":2007.68,"v":4.46},{"s":"US","t":2007.87,"v":4.28},{"s":"US","t":2008.02,"v":4.0},{"s":"US","t":2008.16,"v":3.76},{"s":"US","t":2008.3,"v":4.14},{"s":"US","t":2008.45,"v":4.09},{"s":"US","t":2008.59,"v":3.9},{"s":"US","t":2008.74,"v":3.81},{"s":"US","t":2008.88,"v":3.53},{"s":"US","t":2008.98,"v":2.49},{"s":"US","t":2009.07,"v":2.77},{"s":"US","t":2009.17,"v":3.15},{"s":"US","t":2009.31,"v":3.67},{"s":"US","t":2009.45,"v":3.71},{"s":"US","t":2009.6,"v":3.57},{"s":"US","t":2009.74,"v":3.43},{"s":"US","t":2009.93,"v":3.62},{"s":"US","t":2010.12,"v":3.81},{"s":"US","t":2010.27,"v":3.53},{"s":"US","t":2010.46,"v":3.24},{"s":"US","t":2010.6,"v":2.87},{"s":"US","t":2010.73,"v":2.63},{"s":"US","t":2010.89,"v":3.24},{"s":"US","t":2011.07,"v":3.49},{"s":"US","t":2011.22,"v":3.39},{"s":"US","t":2011.36,"v":3.21},{"s":"US","t":2011.5,"v":2.93},{"s":"US","t":2011.65,"v":2.64},{"s":"US","t":2011.74,"v":2.08},{"s":"US","t":2011.89,"v":2.04},{"s":"US","t":2012.03,"v":2.04},{"s":"US","t":2012.17,"v":1.99},{"s":"US","t":2012.32,"v":1.85},{"s":"US","t":2012.46,"v":1.76},{"s":"US","t":2012.61,"v":1.62},{"s":"US","t":2012.75,"v":1.76},{"s":"US","t":2012.89,"v":1.66},{"s":"US","t":2013.04,"v":1.76},{"s":"US","t":2013.18,"v":1.85},{"s":"US","t":2013.32,"v":1.9},{"s":"US","t":2013.47,"v":2.36},{"s":"US","t":2013.61,"v":2.69},{"s":"US","t":2013.75,"v":2.83},{"s":"US","t":2013.9,"v":2.93},{"s":"US","t":2014.04,"v":2.79},{"s":"US","t":2014.19,"v":2.74},{"s":"US","t":2014.38,"v":2.64},{"s":"US","t":2014.57,"v":2.55},{"s":"US","t":2014.71,"v":2.36},{"s":"US","t":2014.86,"v":2.22},{"s":"US","t":2015.0,"v":1.99},{"s":"US","t":2015.14,"v":1.85},{"s":"US","t":2015.29,"v":2.18},{"s":"US","t":2015.43,"v":2.36},{"s":"US","t":2015.57,"v":2.13},{"s":"US","t":2015.72,"v":2.08},{"s":"US","t":2015.86,"v":2.22},{"s":"US","t":2016.01,"v":2.18},{"s":"US","t":2016.15,"v":1.85},{"s":"US","t":2016.29,"v":1.8},{"s":"US","t":2016.44,"v":1.76}
]},
"encoding": {
  "x": {"field": "t", "type": "quantitative", "scale": {"domain": [1980, 2016.47], "nice": false, "zero": false},
    "axis": {"values": [1980,1985,1990,1995,2000,2005,2010,2015], "format": "d", "title": null, "grid": true, "gridColor": "#dcdcdc", "gridWidth": 1,
      "domainColor": "#a6a6a6", "domainWidth": 1.5, "tickColor": "#a6a6a6", "tickSize": 6, "labelFlush": false, "labelFontSize": 21, "labelColor": "#595959", "labelPadding": 14, "labelFont": "Liberation Sans"}}
},
"layer": [
  {"mark": {"type": "line", "strokeWidth": 3.7},
   "encoding": {
     "y": {"field": "v", "type": "quantitative", "scale": {"domain": [0, 20], "nice": false},
       "axis": {"orient": "left", "values": [0,5,10,15,20], "title": null, "grid": true, "gridColor": "#dcdcdc", "domainColor": "#a6a6a6", "domainWidth": 1.5, "ticks": false, "tickSize": 0, "labelPadding": 17, "labelFontSize": 21, "labelColor": "#595959", "labelFont": "Liberation Sans"}},
     "color": {"field": "s", "type": "nominal", "title": null,
       "scale": {"domain": ["DE","EA","UK","US"], "range": ["#45b6ea","#0b3a93","#fbb42a","#ef4b24"]},
       "legend": {"orient": "none", "legendX": 448, "legendY": -54, "direction": "horizontal", "symbolType": "stroke", "symbolSize": 2025, "symbolStrokeWidth": 4.5, "labelFontSize": 22, "labelColor": "#595959", "labelFont": "Liberation Sans", "labelOffset": 3, "columnPadding": 4, "padding": 0}}
   }},
  {"mark": {"type": "point", "opacity": 0},
   "encoding": {
     "y": {"field": "v", "type": "quantitative", "scale": {"domain": [0, 20], "nice": false},
       "axis": {"orient": "right", "values": [0,5,10,15,20], "title": null, "grid": false, "domainColor": "#a6a6a6", "domainWidth": 1.5, "ticks": false, "tickSize": 0, "labelPadding": 15, "labelFontSize": 21, "labelColor": "#595959", "labelFont": "Liberation Sans"}}
   }}
],
"resolve": {"scale": {"y": "independent"}, "axis": {"y": "independent"}}
}
